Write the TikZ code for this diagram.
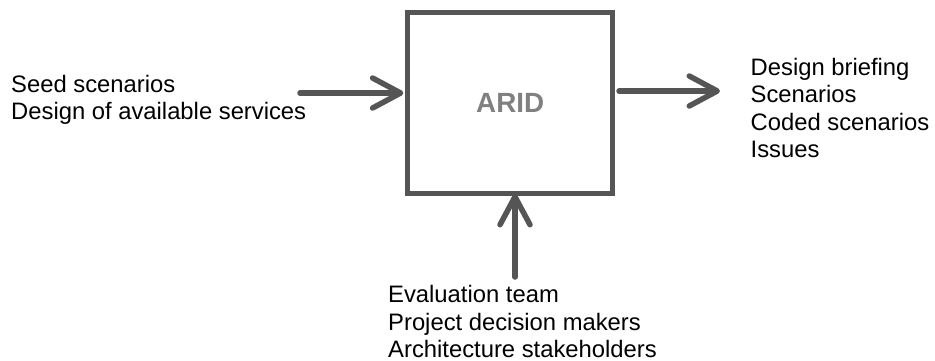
\documentclass[tikz,border=0pt]{standalone}
\usepackage{fontspec}
\setmainfont{Liberation Sans}
\usetikzlibrary{arrows.meta,calc}
\definecolor{lineg}{HTML}{555555}
\definecolor{aridg}{HTML}{808080}
\tikzset{
  conn/.style={draw=lineg, line width=5.5pt, line cap=round,
    -{Straight Barb[length=28pt,width=30pt,round]}},
  lbl/.style={inner sep=0pt, align=left, font=\fontsize{23.8}{27.5}\selectfont},
}
\begin{document}
\begin{tikzpicture}[x=1pt,y=-1pt]
\useasboundingbox (0,0) rectangle (935,360);
\node[draw=lineg, line width=5pt, minimum width=204.7pt, minimum height=181pt,
      inner sep=0pt, text=aridg, font=\bfseries\fontsize{27.8}{30}\selectfont]
      (arid) at (510.2,103) {ARID};
\node[lbl, anchor=north west] (inl) at (11,74.6) {Seed scenarios\\Design of available services};
\node[lbl, anchor=north west] (outl) at (750.5,57.6) {Design briefing\\Scenarios\\Coded scenarios\\Issues};
\node[lbl, anchor=north west] (resl) at (388,285.4) {Evaluation team\\Project decision makers\\Architecture stakeholders};
\coordinate (inL) at (300,93);
\coordinate (outR) at (720,91);
\coordinate (inB) at (515,277);
\draw[conn] (inL) -- ([xshift=-2pt]inL -| arid.west);
\draw[conn] ([xshift=4pt]outR -| arid.east) -- (outR);
\draw[conn] (inB) -- ([yshift=2pt]inB |- arid.south);
\end{tikzpicture}
\end{document}
